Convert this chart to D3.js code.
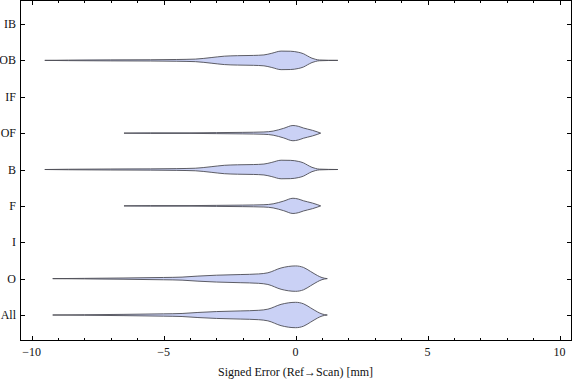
<!DOCTYPE html>
<html>
<head>
<meta charset="utf-8">
<script src="https://cdn.jsdelivr.net/npm/d3@7/dist/d3.min.js"></script>
<style>
  body { margin: 0; background: #fff; }
  svg { display: block; font-family: "Liberation Serif", "DejaVu Serif", serif; }
</style>
</head>
<body>
<div id="chart"></div>
<script>
// categories top to bottom
var categories = ["IB", "OB", "IF", "OF", "B", "F", "I", "O", "All"];
var xTicks = [-10, -5, 0, 5, 10];

// violin profiles: signed error (mm) and relative density
var obErr  = [-9.5, -8.6, -7, -5.5, -4.5, -3.8, -3.2, -2.7, -2.2, -1.6, -1.2, -0.9, -0.55, -0.2, 0.1, 0.3, 0.45, 0.62, 0.76, 0.9, 1.6];
var obDens = [0, 0.02, 0.04, 0.05, 0.07, 0.1, 0.22, 0.33, 0.37, 0.39, 0.43, 0.56, 0.73, 0.72, 0.64, 0.52, 0.35, 0.17, 0.08, 0.03, 0];

var ofErr  = [-6.5, -5.5, -4, -3, -2, -1.2, -0.85, -0.45, -0.1, 0.1, 0.3, 0.45, 0.64, 0.82, 0.95];
var ofDens = [0, 0.02, 0.02, 0.04, 0.06, 0.09, 0.16, 0.38, 0.6, 0.54, 0.4, 0.32, 0.22, 0.1, 0];

var oErr  = [-9.2, -8, -6.5, -5, -4.3, -3.7, -3, -2.1, -1.4, -1.05, -0.55, 0, 0.3, 0.57, 0.83, 1.0, 1.2];
var oDens = [0, 0.02, 0.05, 0.09, 0.12, 0.2, 0.27, 0.32, 0.37, 0.46, 0.84, 1.0, 0.88, 0.56, 0.24, 0.08, 0];

// which profile goes on which row (IB, IF, I are empty)
var rows = [
  {cat: "OB", err: obErr, dens: obDens},
  {cat: "OF", err: ofErr, dens: ofDens},
  {cat: "B", err: obErr, dens: obDens},
  {cat: "F", err: ofErr, dens: ofDens},
  {cat: "O", err: oErr, dens: oDens},
  {cat: "All", err: oErr, dens: oDens}
];

var W = 576, H = 381;
var frame = {left: 20.5, right: 571.5, top: 0.5, bottom: 340.5};

var svg = d3.select("#chart").append("svg")
  .attr("width", W)
  .attr("height", H);

var x = d3.scaleLinear().domain([-10.42, 10.45]).range([frame.left, frame.right]);
var y = d3.scalePoint().domain(categories).range([24, 315]);
var w = d3.scaleLinear().domain([0, 1]).range([0, 12.7]);

// violins
var area = d3.area()
  .curve(d3.curveMonotoneX)
  .x(function(d) { return x(d[0]); })
  .y0(function(d) { return d[2] - w(d[1]); })
  .y1(function(d) { return d[2] + w(d[1]); });

rows.forEach(function(r) {
  var cy = y(r.cat);
  var pts = r.err.map(function(e, i) { return [e, r.dens[i], cy]; });
  svg.append("path")
    .attr("d", area(pts))
    .attr("fill", "#cad1f5")
    .attr("stroke", "#4d4d55")
    .attr("stroke-width", 0.9)
    .attr("stroke-linejoin", "round");
});

// frame
svg.append("rect")
  .attr("x", frame.left).attr("y", frame.top)
  .attr("width", frame.right - frame.left)
  .attr("height", frame.bottom - frame.top)
  .attr("fill", "none")
  .attr("stroke", "#000")
  .attr("stroke-width", 1);

// x ticks, major and minor, bottom and top
var minor = d3.range(-10, 11, 1).filter(function(v) { return xTicks.indexOf(v) < 0; });
var tg = svg.append("g").attr("stroke", "#000").attr("stroke-width", 1);

xTicks.forEach(function(v) {
  var px = Math.round(x(v)) + 0.5;
  tg.append("line").attr("x1", px).attr("x2", px).attr("y1", frame.bottom).attr("y2", frame.bottom - 4.5);
  tg.append("line").attr("x1", px).attr("x2", px).attr("y1", frame.top).attr("y2", frame.top + 4.5);
});
minor.forEach(function(v) {
  var px = Math.round(x(v)) + 0.5;
  tg.append("line").attr("x1", px).attr("x2", px).attr("y1", frame.bottom).attr("y2", frame.bottom - 2.5);
  tg.append("line").attr("x1", px).attr("x2", px).attr("y1", frame.top).attr("y2", frame.top + 2.5);
});

// y ticks, left and right
categories.forEach(function(c) {
  var py = Math.round(y(c)) + 0.5;
  tg.append("line").attr("x1", frame.left).attr("x2", frame.left + 4.5).attr("y1", py).attr("y2", py);
  tg.append("line").attr("x1", frame.right).attr("x2", frame.right - 4.5).attr("y1", py).attr("y2", py);
});

// tick labels
svg.append("g").selectAll("text").data(xTicks).enter().append("text")
  .attr("x", function(d) { return x(d); })
  .attr("y", 355.5)
  .attr("text-anchor", "middle")
  .attr("font-size", 12)
  .attr("fill", "#111")
  .text(function(d) { return d < 0 ? "\u2212" + Math.abs(d) : d; });

svg.append("g").selectAll("text").data(categories).enter().append("text")
  .attr("x", 16)
  .attr("y", function(d) { return y(d) + 4; })
  .attr("text-anchor", "end")
  .attr("font-size", 12)
  .attr("fill", "#111")
  .text(function(d) { return d; });

// axis title
svg.append("text")
  .attr("x", x(0))
  .attr("y", 376)
  .attr("text-anchor", "middle")
  .attr("font-size", 12)
  .attr("fill", "#111")
  .text("Signed Error (Ref\u2192Scan) [mm]");
</script>
</body>
</html>
